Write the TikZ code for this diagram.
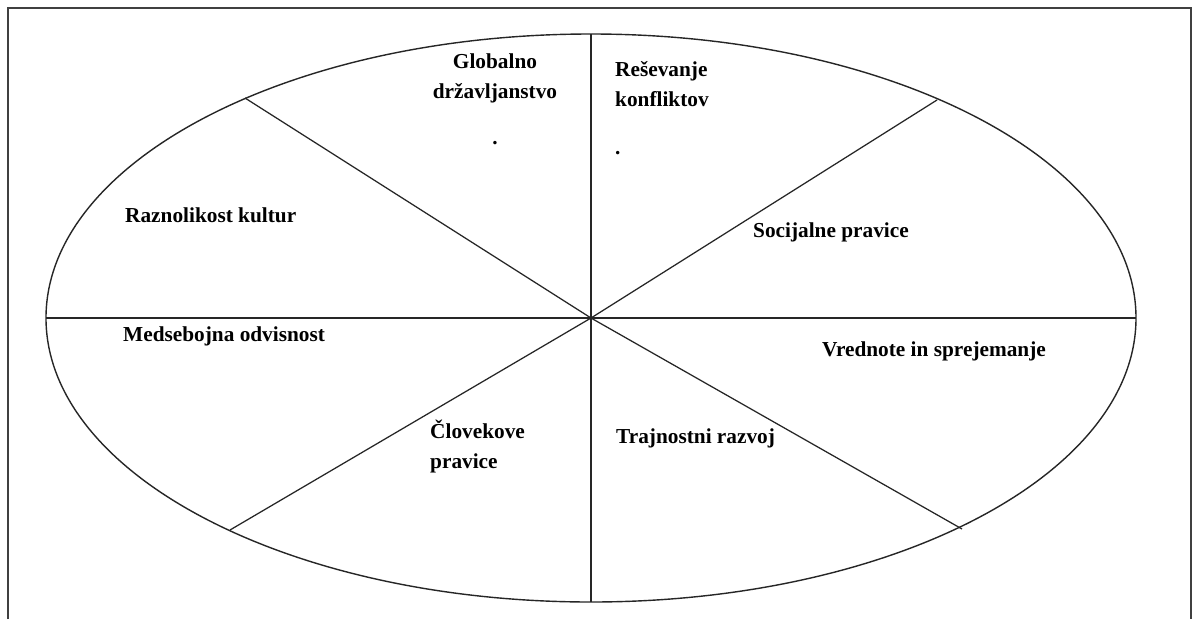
\documentclass[tikz,border=0pt]{standalone}
\usepackage{fontspec}
\setmainfont{Liberation Serif}
\begin{document}
\begin{tikzpicture}[x=1pt,y=-1pt,
  lbl/.style={inner sep=0pt, font=\fontsize{21.3}{29.5}\selectfont\bfseries},
  seg/.style={line width=1.25pt, draw=black!85},
  rim/.style={line width=1.4pt, draw=black!85},
  frame/.style={line width=1.2pt, draw=black!75}]
\useasboundingbox (0,0) rectangle (1194,619);
\fill[white] (0,0) rectangle (1194,619);
% frame
\draw[frame] (8,619) -- (8,8) -- (1191,8) -- (1191,619);
% ellipse
\coordinate (c) at (591,318);
\draw[rim] (c) ellipse [x radius=545, y radius=284];
% spoke end points
\coordinate (top) at (591,34);
\coordinate (bot) at (591,602);
\coordinate (lft) at (46,318);
\coordinate (rgt) at (1136,318);
\coordinate (ul) at (245,98);
\coordinate (ur) at (937,100);
\coordinate (ll) at (230,530);
\coordinate (lr) at (962,529);
\draw[seg] (top) -- (bot);
\draw[seg] (lft) -- (rgt);
\draw[seg] (ul) -- (c) -- (lr);
\draw[seg] (ur) -- (c) -- (ll);
% labels
\node[lbl, anchor=base, align=center] (glob) at (495,98) {Globalno\\državljanstvo};
\node[lbl, anchor=base] (gdot) at (495,144) {.};
\node[lbl, anchor=base west, align=left] (res) at (615,106) {Reševanje\\konfliktov};
\node[lbl, anchor=base west] (rdot) at (615,154) {.};
\node[lbl, anchor=base west] (raz) at (125,222) {Raznolikost kultur};
\node[lbl, anchor=base west] (soc) at (753,237) {Socijalne pravice};
\node[lbl, anchor=base west] (med) at (123,341) {Medsebojna odvisnost};
\node[lbl, anchor=base west] (vre) at (822,356) {Vrednote in sprejemanje};
\node[lbl, anchor=base west, align=left] (clo) at (430,468) {Človekove\\pravice};
\node[lbl, anchor=base west] (tra) at (616,443) {Trajnostni razvoj};
\end{tikzpicture}
\end{document}
